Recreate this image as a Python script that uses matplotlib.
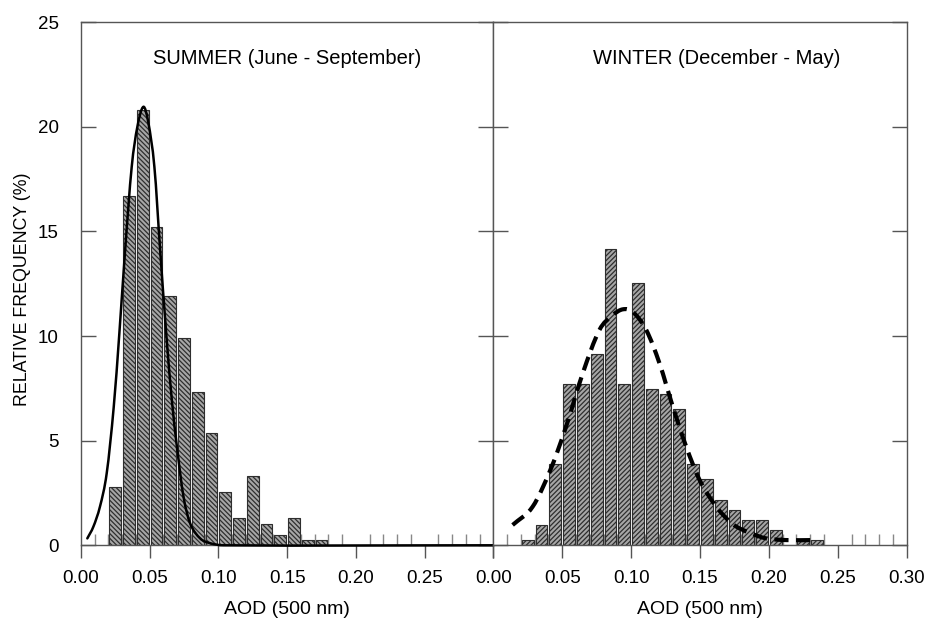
import numpy as np
import matplotlib
matplotlib.use("Agg")
import matplotlib.pyplot as plt
from matplotlib.path import Path
from matplotlib.patches import PathPatch
from matplotlib.ticker import MultipleLocator, FormatStrFormatter

plt.rcParams['font.family'] = ['Liberation Sans', 'DejaVu Sans']
plt.rcParams['hatch.linewidth'] = 0.9

# relative frequency (%) per 0.01 AOD bin, bins given by their left edge
summer_bins = [0.02, 0.03, 0.04, 0.05, 0.06, 0.07, 0.08, 0.09, 0.10, 0.11,
               0.12, 0.13, 0.14, 0.15, 0.16, 0.17]
summer_freq = [2.8, 16.7, 20.8, 15.2, 11.9, 9.9, 7.35, 5.35, 2.55, 1.3,
               3.3, 1.0, 0.5, 1.3, 0.25, 0.25]

winter_bins = [0.02, 0.03, 0.04, 0.05, 0.06, 0.07, 0.08, 0.09, 0.10, 0.11,
               0.12, 0.13, 0.14, 0.15, 0.16, 0.17, 0.18, 0.19, 0.20, 0.21,
               0.22, 0.23]
winter_freq = [0.25, 0.97, 3.87, 7.71, 7.71, 9.14, 14.17, 7.71, 12.52, 7.45,
               7.23, 6.5, 3.87, 3.15, 2.16, 1.69, 1.21, 1.21, 0.73, 0.0,
               0.25, 0.25]

# fitted distributions
summer_fit_x = [0.0046, 0.009, 0.0138, 0.0187, 0.0238, 0.0279, 0.0321, 0.0369,
                0.041, 0.0454, 0.049, 0.0534, 0.0576, 0.062, 0.0661, 0.0698,
                0.0746, 0.0794, 0.0867, 0.094, 0.1035, 0.30]
summer_fit_y = [0.33, 0.89, 1.85, 3.44, 6.6, 10.13, 14.1, 18.09,
                20.0, 20.96, 20.2, 18.09, 14.1, 10.13, 6.94, 4.71,
                2.32, 1.05, 0.33, 0.1, 0.0, 0.0]

winter_fit_x = [0.014, 0.0286, 0.0419, 0.0528, 0.0649, 0.077, 0.0867, 0.094,
                0.1012, 0.111, 0.1206, 0.1303, 0.14, 0.1497, 0.1618, 0.174,
                0.186, 0.198, 0.2127, 0.232]
winter_fit_y = [0.97, 1.85, 3.68, 5.67, 8.22, 10.29, 11.0, 11.28,
                11.16, 10.29, 8.70, 6.62, 4.71, 3.12, 1.85, 1.0,
                0.6, 0.33, 0.25, 0.25]

BIN = 0.01
SPINE = '#555555'

fig = plt.figure(figsize=(9.27, 6.19), dpi=100)
W, H = 927.0, 619.0
ax1 = fig.add_axes([81 / W, 1 - 545.3 / H, 412.3 / W, 523 / H])
ax2 = fig.add_axes([493.3 / W, 1 - 545.3 / H, 413.4 / W, 523 / H])


def smooth_path(xs, ys):
    # cubic Bezier segments through the given points (Hermite tangents in x)
    pts = np.column_stack([xs, ys]).astype(float)
    n = len(pts)

    def slope(i):
        a, b = pts[max(i - 1, 0)], pts[min(i + 1, n - 1)]
        return (b - a) / (b[0] - a[0])

    verts = [pts[0]]
    codes = [Path.MOVETO]
    for i in range(n - 1):
        h = pts[i + 1, 0] - pts[i, 0]
        verts += [pts[i] + slope(i) * h / 3,
                  pts[i + 1] - slope(i + 1) * h / 3,
                  pts[i + 1]]
        codes += [Path.CURVE4] * 3
    return Path(verts, codes)


def draw_hist(ax, bins, freq, hatch):
    centers = np.array(bins) + BIN / 2
    ax.bar(centers, freq, width=0.0086, facecolor='#a6a6a6',
           edgecolor='#2e2e2e', linewidth=0.8, hatch=hatch, zorder=2)


def style_axes(ax, show_y):
    ax.set_xlim(0, 0.30)
    ax.set_ylim(0, 25)
    for sp in ax.spines.values():
        sp.set_color(SPINE)
        sp.set_linewidth(1.0)
    ax.xaxis.set_major_locator(MultipleLocator(0.05))
    ax.xaxis.set_minor_locator(MultipleLocator(0.01))
    ax.xaxis.set_major_formatter(FormatStrFormatter('%.2f'))
    ax.yaxis.set_major_locator(MultipleLocator(5))
    ax.tick_params(axis='x', which='major', direction='out', length=9,
                   width=1.0, color=SPINE, labelsize=13.5, pad=9)
    ax.tick_params(axis='x', which='minor', direction='in', length=8,
                   width=1.0, color='#888888')
    ax.tick_params(axis='y', which='major', direction='in', length=11,
                   width=1.0, color=SPINE, left=True, right=True,
                   labelleft=show_y, labelsize=13.5, pad=16)
    ax.set_xlabel('AOD (500 nm)', fontsize=14, labelpad=10)


# summer panel
draw_hist(ax1, summer_bins, summer_freq, '\\\\\\\\\\\\\\')
ax1.add_patch(PathPatch(smooth_path(summer_fit_x, summer_fit_y), fill=False,
                        edgecolor='black', linewidth=1.8, zorder=4,
                        clip_on=False, capstyle='round'))
style_axes(ax1, True)
ax1.set_xticks(np.arange(0, 0.301, 0.05))
ax1.set_xticklabels(['0.00', '0.05', '0.10', '0.15', '0.20', '0.25', ''])
ax1.text(0.5, 0.92, 'SUMMER (June - September)', transform=ax1.transAxes,
         ha='center', va='baseline', fontsize=14.5)

# winter panel
draw_hist(ax2, winter_bins, winter_freq, '///////')
ax2.add_patch(PathPatch(smooth_path(winter_fit_x, winter_fit_y), fill=False,
                        edgecolor='black', linewidth=3.0,
                        linestyle=(0, (3.4, 1.8)), zorder=4))
style_axes(ax2, False)
ax2.text(0.54, 0.92, 'WINTER (December - May)', transform=ax2.transAxes,
         ha='center', va='baseline', fontsize=14.5)

fig.text(23 / W, 1 - 289 / H, 'RELATIVE FREQUENCY (%)', rotation=90,
         ha='center', va='center', fontsize=12.8)

fig.savefig('out.png', dpi=100)
